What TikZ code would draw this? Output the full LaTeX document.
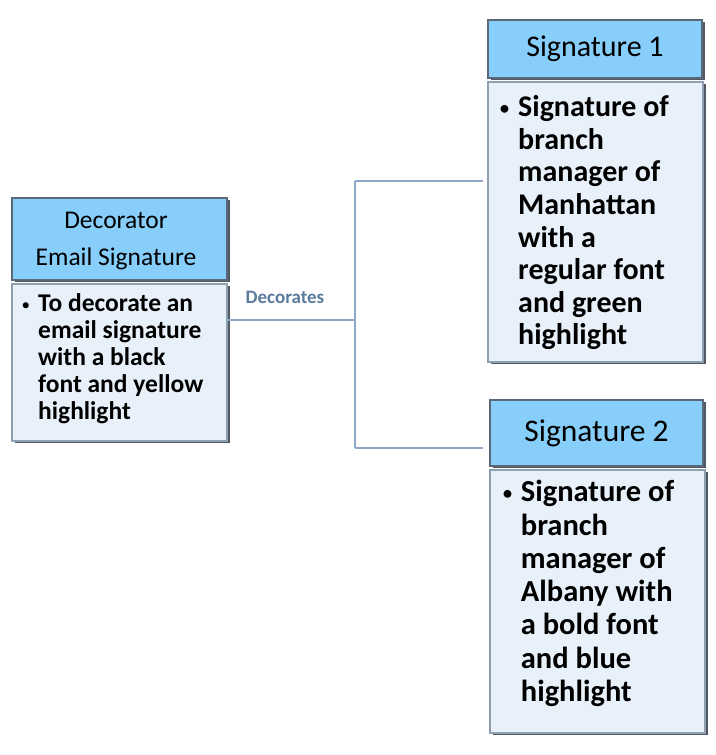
\documentclass[tikz,border=0pt]{standalone}
\usepackage{fontspec}
\setmainfont{Carlito}
\usetikzlibrary{shadows}
\definecolor{hdrfill}{HTML}{87CEFA}
\definecolor{hdrdraw}{HTML}{5A6877}
\definecolor{bodyfill}{HTML}{E8F1FA}
\definecolor{bodydraw}{HTML}{8FA0B2}
\definecolor{shade}{HTML}{3D4752}
\definecolor{conn}{HTML}{8EA9C8}
\definecolor{lbl}{HTML}{5B7A9C}
\newcommand{\bodylines}[1]{\parbox[t]{190pt}{\raggedright #1}}
\begin{document}
\begin{tikzpicture}[x=1pt,y=-1pt,
  hdrbox/.style={rectangle, fill=hdrfill, draw=hdrdraw, line width=2.5pt, inner sep=0pt,
     drop shadow={shadow xshift=3pt, shadow yshift=-2pt, fill=shade, opacity=0.9}},
  bodybox/.style={rectangle, fill=bodyfill, draw=bodydraw, line width=2.5pt, inner sep=0pt,
     drop shadow={shadow xshift=3pt, shadow yshift=-2pt, fill=shade, opacity=0.9}},
  bodytext/.style={anchor=base west, inner sep=0pt},
  bullet/.style={anchor=base west, inner sep=0pt},
  conline/.style={draw=conn, line width=1.2pt}]
\useasboundingbox (0,0) rectangle (715,755);

% left box
\node[hdrbox, minimum width=215pt, minimum height=82pt] (lh) at (119.5,239) {};
\node[align=center, inner sep=0pt, font=\fontsize{25.5}{37}\selectfont] (lht) at (116,241) {Decorator\\Email Signature};
\node[bodybox, minimum width=215pt, minimum height=157pt] (lb) at (119.5,362.5) {};
\node[bullet, font=\fontsize{17}{27}\selectfont] (lbul) at (21.5,310) {•};
\node[bodytext, font=\fontsize{25.5}{27}\selectfont\bfseries] (lbt) at (38,311.7)
  {\bodylines{To decorate an\\email signature\\with a black\\font and yellow\\highlight}};

% top right box
\node[hdrbox, minimum width=214pt, minimum height=58pt,
      font=\fontsize{30}{34}\selectfont] (h1) at (595,49) {Signature 1};
\node[bodybox, minimum width=215pt, minimum height=280pt] (b1) at (595.5,222) {};
\node[bullet, font=\fontsize{22}{30}\selectfont] (b1bul) at (499,115) {•};
\node[bodytext, font=\fontsize{30}{32.6}\selectfont\bfseries] (b1t) at (518,116.7)
  {\bodylines{Signature of\\branch\\manager of\\Manhattan\\with a\\regular font\\and green\\highlight}};

% bottom right box
\node[hdrbox, minimum width=213pt, minimum height=66pt,
      font=\fontsize{31.5}{35}\selectfont] (h2) at (596.5,433) {Signature 2};
\node[bodybox, minimum width=215pt, minimum height=263pt] (b2) at (597.5,601.5) {};
\node[bullet, font=\fontsize{22}{30}\selectfont] (b2bul) at (502,500) {•};
\node[bodytext, font=\fontsize{30.5}{33.3}\selectfont\bfseries] (b2t) at (520.7,501.7)
  {\bodylines{Signature of\\branch\\manager of\\Albany with\\a bold font\\and blue\\highlight}};

% connectors
\coordinate (j) at (355,320);
\coordinate (e1) at (483,181);
\coordinate (e2) at (483,448);
\draw[conline] (lb.east |- j) -- (j);
\draw[conline] (j |- e1) -- (j |- e2);
\draw[conline] (j |- e1) -- (e1);
\draw[conline] (j |- e2) -- (e2);
\node[text=lbl, font=\fontsize{19}{21}\selectfont\bfseries, inner sep=0pt] (dec) at (285,297) {Decorates};
\end{tikzpicture}
\end{document}
